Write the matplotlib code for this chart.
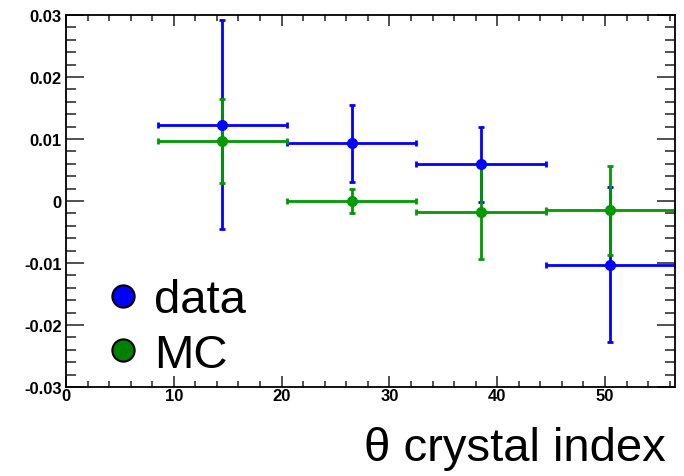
import matplotlib
matplotlib.use("Agg")
import matplotlib.pyplot as plt
from matplotlib.lines import Line2D
from matplotlib.ticker import MultipleLocator

# theta crystal index bins (centre, half width)
bin_centres = [14.5, 26.5, 38.5, 50.5]
bin_halfwidth = [6, 6, 6, 6]

data_vals = [0.0123, 0.0093, 0.0059, -0.0103]
data_errs = [0.0169, 0.0062, 0.0061, 0.0125]

mc_vals = [0.0097, 0.0000, -0.0017, -0.0015]
mc_errs = [0.0068, 0.0019, 0.0077, 0.0072]

plt.rcParams['font.family'] = ['Liberation Sans', 'DejaVu Sans']

fig = plt.figure(figsize=(6.84, 4.77), dpi=100)
ax = fig.add_axes([0.0965, 0.1866, 0.8905, 0.78])

ax.errorbar(bin_centres, data_vals, xerr=bin_halfwidth, yerr=data_errs,
            fmt='o', color='#0000ff', ms=7, lw=2, capsize=2, capthick=2)
ax.errorbar(bin_centres, mc_vals, xerr=bin_halfwidth, yerr=mc_errs,
            fmt='o', color='#009900', ms=7, lw=2, capsize=2, capthick=2)

ax.set_xlim(0, 56.5)
ax.set_ylim(-0.03, 0.03)
ax.xaxis.set_major_locator(MultipleLocator(10))
ax.xaxis.set_minor_locator(MultipleLocator(2))
ax.yaxis.set_minor_locator(MultipleLocator(0.002))
ax.set_yticks([-0.03, -0.02, -0.01, 0, 0.01, 0.02, 0.03])
ax.set_yticklabels(['-0.03', '-0.02', '-0.01', '0', '0.01', '0.02', '0.03'])

ax.tick_params(which='both', direction='in', top=True, right=True,
               color='#333333', labelsize=12)
ax.tick_params(axis='y', which='major', length=13, width=1.2, pad=3)
ax.tick_params(axis='y', which='minor', length=7, width=1.2)
ax.tick_params(axis='x', which='major', length=8, width=1.2, pad=1)
ax.tick_params(axis='x', which='minor', length=4, width=1.2)
for lab in ax.get_xticklabels() + ax.get_yticklabels():
    lab.set_fontweight('bold')
for sp in ax.spines.values():
    sp.set_linewidth(1.3)

handles = [Line2D([], [], ls='none', marker='o', ms=16, mfc='#0000ff', mec='black', mew=1.5),
           Line2D([], [], ls='none', marker='o', ms=16, mfc='#008000', mec='black', mew=1.5)]
ax.legend(handles, ['data', 'MC'], loc='lower left', bbox_to_anchor=(0.071, 0.028),
          frameon=False, fontsize=34, handlelength=0.6, handletextpad=0.35,
          labelspacing=0.22, borderaxespad=0.0, borderpad=0.0)

fig.text(0.973, 0.012, 'θ crystal index', ha='right', va='bottom', fontsize=34)

fig.savefig('out.png', dpi=100)
